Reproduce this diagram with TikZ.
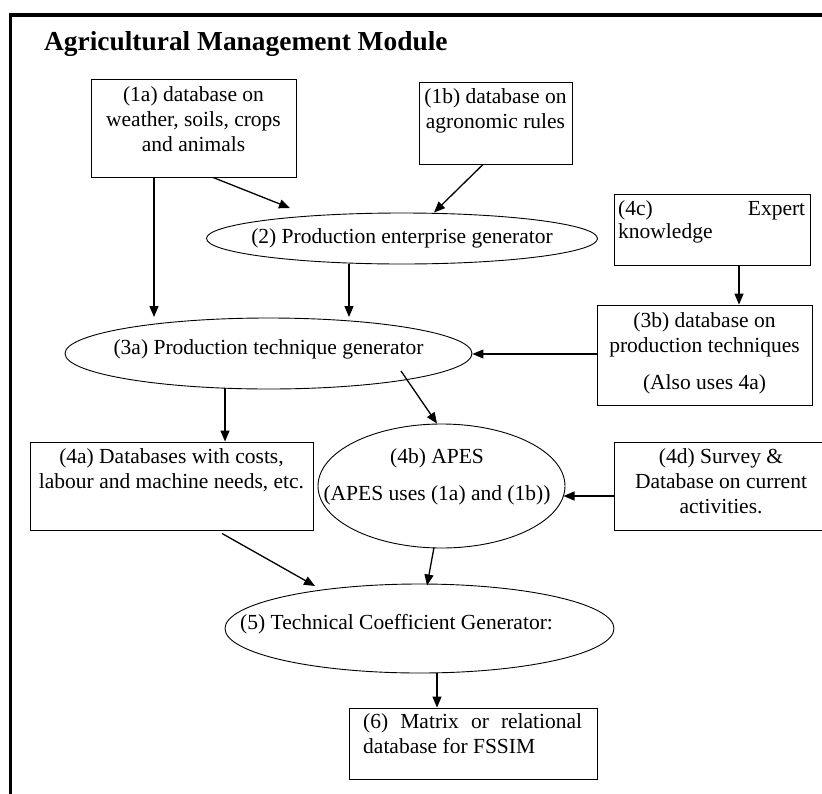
\documentclass[tikz,border=0pt]{standalone}
\usepackage{fontspec}
\setmainfont{Liberation Serif}
\usetikzlibrary{shapes.geometric,arrows.meta,calc}
\begin{document}
\begin{tikzpicture}[x=1pt,y=-1pt,
  box/.style={draw, line width=0.9pt, inner sep=0pt, rectangle},
  ell/.style={draw, line width=0.9pt, ellipse, inner sep=0pt},
  txt/.style={inner sep=0pt, font=\fontsize{21.5pt}{25pt}\selectfont},
  arr/.style={line width=1.3pt, -{Triangle[length=11pt,width=9pt]}}]
\useasboundingbox (0,0) rectangle (822,793);
\clip (0,0) rectangle (822,793);
\fill[white] (0,0) rectangle (822,793);
% frame
\draw[line width=3.8pt, line join=miter] (830,14.7) -- (10.5,14.7) -- (10.5,800);
% title
\node[anchor=base west, inner sep=0pt, font=\fontsize{27.4pt}{30pt}\selectfont\bfseries] (title) at (44,50) {Agricultural Management Module};

% boxes
\node[box, minimum width=205pt, minimum height=98pt] (b1a) at (193.5,128) {};
\node[box, minimum width=153pt, minimum height=82pt] (b1b) at (495.5,123) {};
\node[box, minimum width=196pt, minimum height=71pt] (b4c) at (712,229.5) {};
\node[box, minimum width=215pt, minimum height=100pt] (b3b) at (704.5,355) {};
\node[box, minimum width=283pt, minimum height=88pt] (b4a) at (171.5,486) {};
\node[box, minimum width=214pt, minimum height=88pt] (b4d) at (721,486) {};
\node[box, minimum width=248pt, minimum height=71pt] (b6) at (473,743.5) {};

% ellipses
\node[ell, minimum width=391pt, minimum height=51pt] (e2) at (402,238.5) {};
\node[ell, minimum width=407pt, minimum height=71pt] (e3a) at (268.5,353.5) {};
\node[ell, minimum width=247pt, minimum height=124pt] (e4b) at (441.5,486) {};
\node[ell, minimum width=389pt, minimum height=89pt] (e5) at (419.5,628.5) {};

% texts
\node[txt, anchor=base] (t1a) at (193.5,101) {\parbox[t]{205pt}{\centering (1a) database on\\weather, soils, crops\\and animals}};
\node[txt, anchor=base] (t1b) at (495.5,103) {\parbox[t]{153pt}{\centering (1b) database on\\agronomic rules}};
\node[txt, anchor=base] (t2) at (402,243) {(2) Production enterprise generator};
\node[txt, anchor=base west] (t4c) at (618,215) {\parbox[t]{187pt}{\fontsize{21.5pt}{23.5pt}\selectfont (4c)\hfill Expert\\knowledge}};
\node[txt, anchor=base] (t3a) at (268.5,354) {(3a) Production technique generator};
\node[txt, anchor=base] (t3b) at (704.5,327) {\parbox[t]{215pt}{\centering (3b) database on\\production techniques\\[12pt](Also uses 4a)}};
\node[txt, anchor=base] (t4a) at (171.5,463) {\parbox[t]{283pt}{\centering (4a) Databases with costs,\\labour and machine needs, etc.}};
\node[txt, anchor=base] (t4b) at (437,463) {\parbox[t]{247pt}{\centering (4b) APES\\[12pt](APES uses (1a) and (1b))}};
\node[txt, anchor=base] (t4d) at (721,463) {\parbox[t]{214pt}{\centering (4d) Survey \&\\Database on current\\activities.}};
\node[txt, anchor=base] (t5) at (396.5,629) {(5) Technical Coefficient Generator:};
\node[txt, anchor=base west] (t6) at (363,728) {\parbox[t]{219pt}{(6)\hfill Matrix\hfill or\hfill relational\\database for FSSIM}};

% connectors
\draw[arr] ($(b1a.south)+(19.5,0)$) -- ($(e2.center)+(-112,-30.5)$);
\draw[arr] ($(b1b.south)+(-12.5,0)$) -- ($(e2.center)+(32,-26)$);
\draw[arr] ($(b1a.south)+(-39.5,0)$) -- ($(e3a.center)+(-114.5,-36.5)$);
\draw[arr] ($(e2.center)+(-53,25.5)$) -- ($(e3a.center)+(80.5,-36.5)$);
\draw[arr] ($(b4c.south)+(27,0)$) -- ($(b3b.north)+(34.5,0)$);
\draw[arr] ($(b3b.west)+(0,-1)$) -- ($(e3a.east)+(0,0.5)$);
\draw[arr] ($(e3a.center)+(-43.5,34.5)$) -- ($(b4a.north)+(53.5,0)$);
\draw[arr] ($(e3a.center)+(132.5,17.5)$) -- ($(e4b.north)+(-4.5,0)$);
\draw[arr] ($(b4d.west)+(0,10)$) -- ($(e4b.center)+(122,10)$);
\draw[arr] ($(b4a.south)+(50.5,3)$) -- ($(e5.center)+(-104.5,-42.5)$);
\draw[arr] ($(e4b.south)+(-7.5,-1)$) -- ($(e5.center)+(7.5,-43)$);
\draw[arr] ($(e5.south)+(17.5,0)$) -- ($(b6.north)+(-36,0)$);
\end{tikzpicture}
\end{document}
